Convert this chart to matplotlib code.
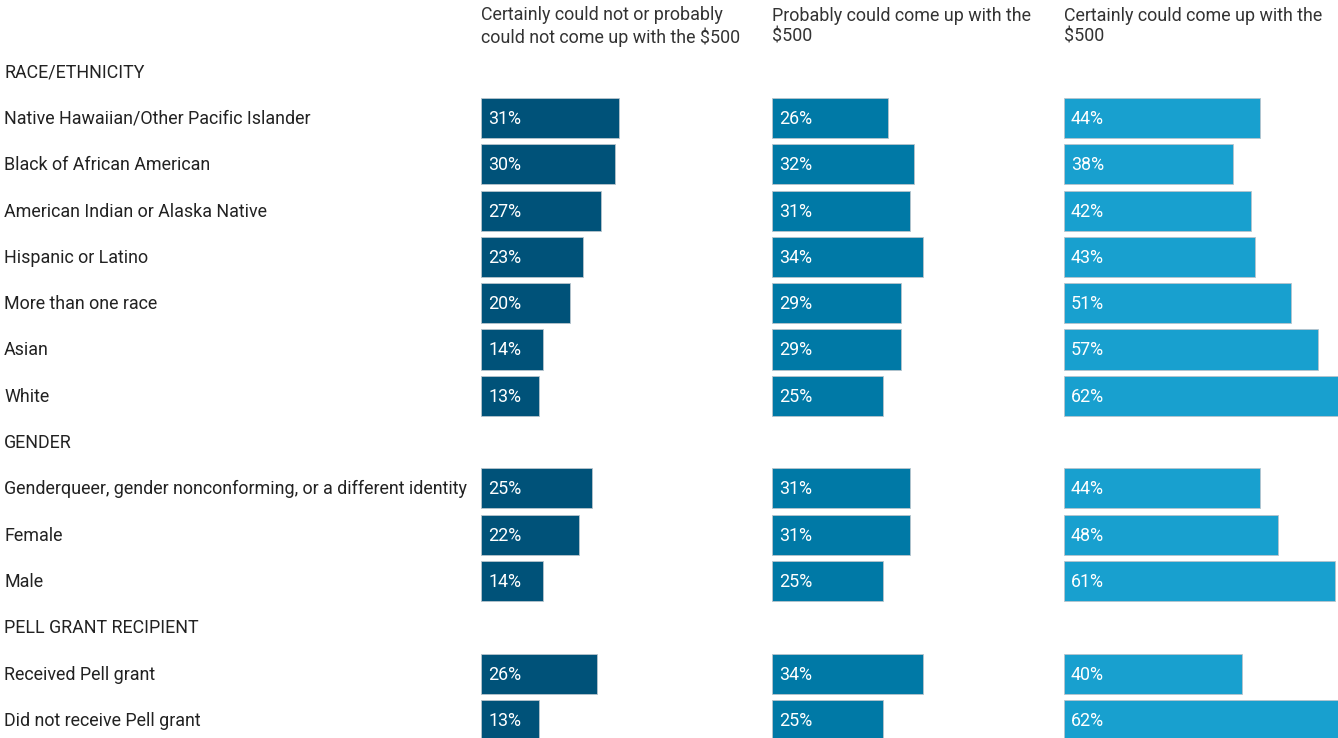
import matplotlib.pyplot as plt
from matplotlib.transforms import blended_transform_factory

plt.rcParams['font.family'] = ['Roboto', 'DejaVu Sans']

group_names = ['RACE/ETHNICITY', 'GENDER', 'PELL GRANT RECIPIENT']
race_labels = ['Native Hawaiian/Other Pacific Islander', 'Black of African American',
               'American Indian or Alaska Native', 'Hispanic or Latino',
               'More than one race', 'Asian', 'White']
gender_labels = ['Genderqueer, gender nonconforming, or a different identity',
                 'Female', 'Male']
pell_labels = ['Received Pell grant', 'Did not receive Pell grant']

could_not = [[31, 30, 27, 23, 20, 14, 13], [25, 22, 14], [26, 13]]
probably = [[26, 32, 31, 34, 29, 29, 25], [31, 31, 25], [34, 25]]
certainly = [[44, 38, 42, 43, 51, 57, 62], [44, 48, 61], [40, 62]]

headers = ['Certainly could not or probably\ncould not come up with the $500',
           'Probably could come up with the\n$500',
           'Certainly could come up with the\n$500']
colors = ['#005279', '#0079a6', '#18a0cf']

W, H = 1338, 738
fig = plt.figure(figsize=(W / 100, H / 100), dpi=100)
FS = 12.9

# rows: header rows and data rows in order
rows = []
for g, labels in zip(group_names, [race_labels, gender_labels, pell_labels]):
    rows.append((g, None))
    for i, lab in enumerate(labels):
        rows.append((lab, (group_names.index(g), i)))

step = 46.3
y_first = 71.7
ylim = ((H - y_first) / step, -y_first / step)
px_per_pct = 4.45
col_x = [481, 772, 1064]
text_dy = 0.02  # nudge text a touch down

# label axis
axl = fig.add_axes([0, 0, col_x[0] / W, 1])
axl.set_xlim(0, col_x[0])
axl.set_ylim(*ylim)
axl.axis('off')
for r, (lab, idx) in enumerate(rows):
    axl.text(4, r + text_dy, lab, ha='left', va='center', fontsize=FS, color='#222222')

series = [could_not, probably, certainly]
for c, (x0, vals, col, head) in enumerate(zip(col_x, series, colors, headers)):
    x1 = col_x[c + 1] if c + 1 < len(col_x) else W
    ax = fig.add_axes([x0 / W, 0, (x1 - x0) / W, 1])
    ax.set_xlim(0, (x1 - x0) / px_per_pct)
    ax.set_ylim(*ylim)
    ax.axis('off')
    ys, ws = [], []
    for r, (lab, idx) in enumerate(rows):
        if idx is not None:
            ys.append(r)
            ws.append(vals[idx[0]][idx[1]])
    ax.barh(ys, ws, height=0.866, color=col, edgecolor='#b8c4cc', linewidth=0.6)
    tr = blended_transform_factory(ax.transAxes, ax.transData)
    for y, w in zip(ys, ws):
        ax.text(7 / (x1 - x0), y + text_dy, f'{w}%', transform=tr, ha='left', va='center',
                fontsize=FS, color='white')
    ax.text(0, (26.5 - y_first) / step, head, transform=tr, ha='left', va='center',
            fontsize=FS, color='#333333', linespacing=1.2)

fig.savefig('out.png', dpi=100)
